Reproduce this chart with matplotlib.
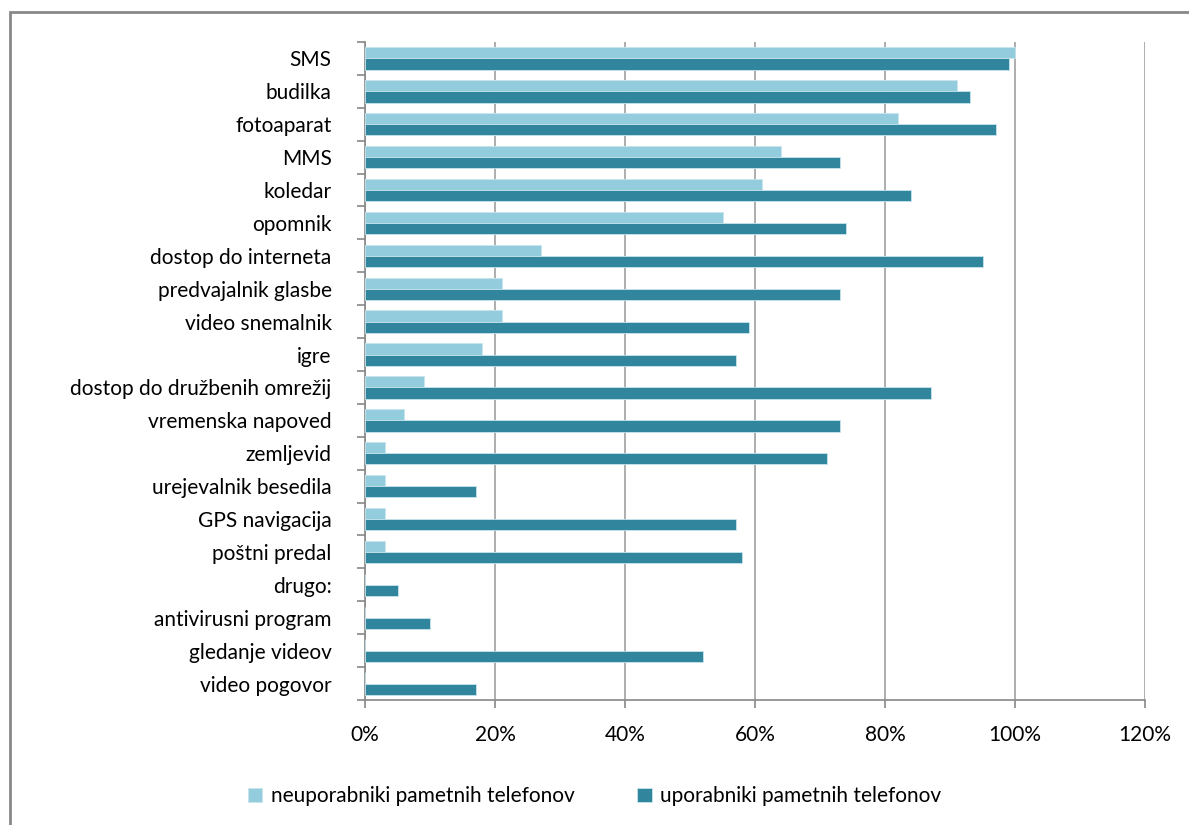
import matplotlib.pyplot as plt
import numpy as np
from matplotlib.patches import Rectangle

categories = ["SMS", "budilka", "fotoaparat", "MMS", "koledar", "opomnik",
              "dostop do interneta", "predvajalnik glasbe", "video snemalnik",
              "igre", "dostop do družbenih omrežij", "vremenska napoved",
              "zemljevid", "urejevalnik besedila", "GPS navigacija",
              "poštni predal", "drugo:", "antivirusni program",
              "gledanje videov", "video pogovor"]
non_users = [100, 91, 82, 64, 61, 55, 27, 21, 21, 18, 9, 6, 3, 3, 3, 3, 0, 0, 0, 0]
users = [99, 93, 97, 73, 84, 74, 95, 73, 59, 57, 87, 73, 71, 17, 57, 58, 5, 10, 52, 17]
xticks = [0, 20, 40, 60, 80, 100, 120]

light = "#93cddd"
dark = "#31859c"

plt.rcParams["font.family"] = ["Lato", "DejaVu Sans"]
fs = 15

fig = plt.figure(figsize=(11.89, 8.25), dpi=100)
ax = fig.add_axes([365 / 1189, 1 - 700 / 825, 780 / 1189, 658 / 825])

y = np.arange(len(categories))
h = 0.34
ax.barh(y - h / 2, non_users, height=h, color=light, edgecolor="#c8e6ee",
        linewidth=0.6, label="neuporabniki pametnih telefonov", zorder=3)
ax.barh(y + h / 2, users, height=h, color=dark, edgecolor="#c8e6ee",
        linewidth=0.6, label="uporabniki pametnih telefonov", zorder=3)

# categories top to bottom, ticks between them like Excel
ax.set_ylim(len(categories) - 0.5, -0.5)
ax.set_yticks(y)
ax.set_yticklabels(categories, fontsize=fs)
ax.set_yticks(np.arange(len(categories) + 1) - 0.5, minor=True)
ax.tick_params(axis="y", which="major", length=0, pad=24)
ax.tick_params(axis="y", which="minor", length=6, color="#888888", width=1.2)

ax.set_xlim(0, 120)
ax.set_xticks(xticks)
ax.set_xticklabels([f"{t}%" for t in xticks], fontsize=fs)
ax.tick_params(axis="x", length=6, color="#888888", width=1.2, pad=12)
ax.grid(axis="x", color="#a0a0a0", linewidth=1.2, zorder=0)

for side in ["top", "right"]:
    ax.spines[side].set_visible(False)
for side in ["left", "bottom"]:
    ax.spines[side].set_color("#888888")
    ax.spines[side].set_linewidth(1.2)

fig.legend(loc="lower center", bbox_to_anchor=(0.5, 0.0), ncol=2,
           frameon=False, fontsize=fs, handlelength=0.7, handleheight=0.7,
           columnspacing=3, handletextpad=0.4)

# chart frame, cut off at right and bottom as in the original
fig.patches.append(Rectangle((10 / 1189, -0.1), 1.2, 1.1 - 12 / 825,
                             transform=fig.transFigure, fill=False,
                             edgecolor="#888888", linewidth=2))

fig.savefig("out.png", dpi=100)
